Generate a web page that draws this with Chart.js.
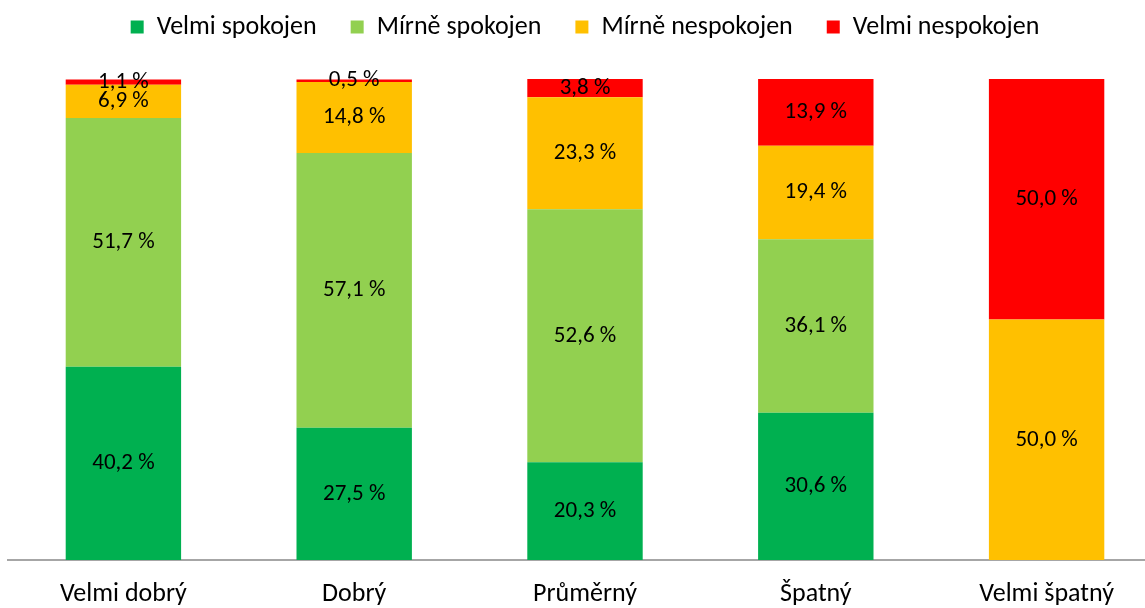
<!DOCTYPE html>
<html>
<head>
<meta charset="utf-8">
<script src="https://cdn.jsdelivr.net/npm/chart.js@4"></script>
<style>
  html, body { margin: 0; padding: 0; background: #fff; overflow: hidden; }
  #wrap { width: 1162px; height: 608px; }
</style>
</head>
<body>
<div id="wrap"><canvas id="myChart"></canvas></div>
<script>
const categories = ['Velmi dobrý', 'Dobrý', 'Průměrný', 'Špatný', 'Velmi špatný'];
const velmiSpokojen = [40.2, 27.5, 20.3, 30.6, 0];
const mirneSpokojen = [51.7, 57.1, 52.6, 36.1, 0];
const mirneNespokojen = [6.9, 14.8, 23.3, 19.4, 50.0];
const velmiNespokojen = [1.1, 0.5, 3.8, 13.9, 50.0];

const fontFam = 'Carlito, "Liberation Sans Narrow", "Open Sans", sans-serif';

// draws the value in the middle of each segment
const segmentLabels = {
    id: 'segmentLabels',
    afterDatasetsDraw(chart) {
        const ctx = chart.ctx;
        ctx.save();
        ctx.font = '23px ' + fontFam;
        ctx.fillStyle = '#000';
        ctx.textAlign = 'center';
        ctx.textBaseline = 'middle';
        chart.data.datasets.forEach((ds, i) => {
            const meta = chart.getDatasetMeta(i);
            meta.data.forEach((bar, j) => {
                const v = ds.data[j];
                if (!v) return;
                const y = (bar.y + bar.base) / 2;
                ctx.fillText(v.toFixed(1).replace('.', ',') + ' %', bar.x, y);
            });
        });
        ctx.restore();
    }
};

const legendSpace = {
    id: 'legendSpace',
    beforeInit(chart) {
        const origFit = chart.legend.fit;
        chart.legend.fit = function () {
            origFit.bind(chart.legend)();
            this.height = 99;
        };
    }
};

const ctx = document.getElementById('myChart').getContext('2d');
const myChart = new Chart(ctx, {
    type: 'bar',
    data: {
        labels: categories,
        datasets: [
            { label: 'Velmi spokojen', data: velmiSpokojen, backgroundColor: '#00b050' },
            { label: 'Mírně spokojen', data: mirneSpokojen, backgroundColor: '#92d050' },
            { label: 'Mírně nespokojen', data: mirneNespokojen, backgroundColor: '#ffc000' },
            { label: 'Velmi nespokojen', data: velmiNespokojen, backgroundColor: '#ff0000' }
        ]
    },
    options: {
        responsive: true,
        maintainAspectRatio: false,
        animation: false,
        layout: { padding: { left: 8, top: -20, right: 0, bottom: 0 } },
        datasets: { bar: { categoryPercentage: 0.5, barPercentage: 1 } },
        scales: {
            x: {
                stacked: true,
                grid: { display: false, drawTicks: false },
                border: { color: '#a6a6a6', width: 2 },
                ticks: { color: '#000', font: { family: fontFam, size: 26 }, padding: 19 },
                afterFit(scale) { scale.height = 48; }
            },
            y: {
                stacked: true,
                min: 0,
                max: 100,
                display: false
            }
        },
        plugins: {
            legend: {
                position: 'top',
                labels: {
                    color: '#000',
                    font: { family: fontFam, size: 26 },
                    boxWidth: 13,
                    boxHeight: 13,
                    padding: 34
                }
            },
            tooltip: { enabled: false }
        }
    },
    plugins: [segmentLabels, legendSpace]
});
</script>
</body>
</html>
